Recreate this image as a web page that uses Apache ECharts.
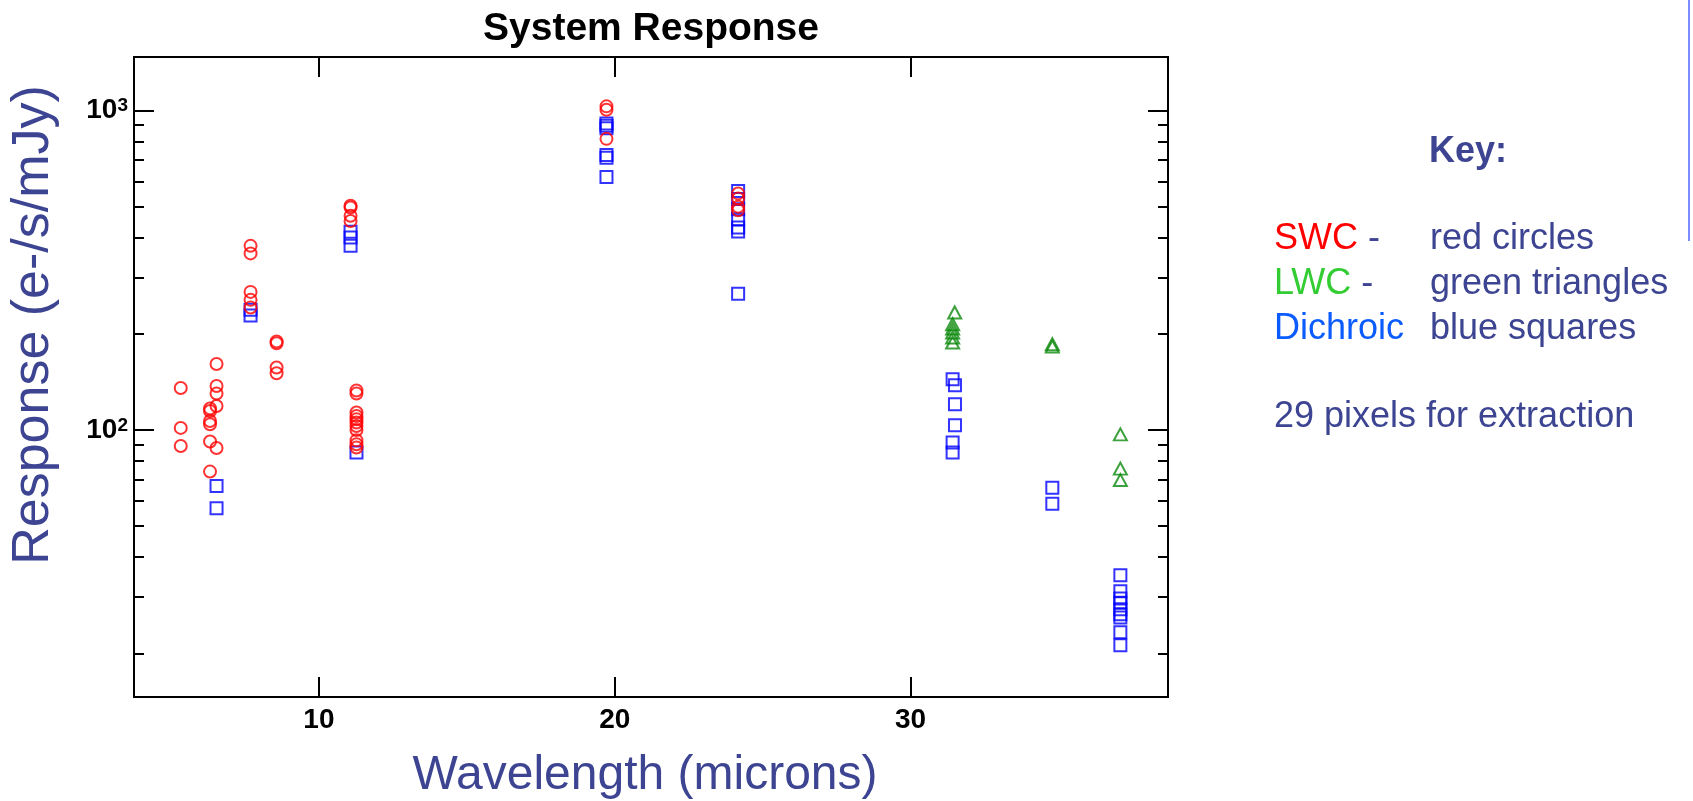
<!DOCTYPE html>
<html>
<head>
<meta charset="utf-8">
<script src="https://cdn.jsdelivr.net/npm/echarts@6/dist/echarts.min.js"></script>
<style>
  html, body { margin: 0; padding: 0; background: #fff; }
  #chart { width: 1693px; height: 801px; }
</style>
</head>
<body>
<div id="chart"></div>
<script>
// ---- data (wavelength in microns, response in e-/s/mJy) ----
const swcData = [
  [5.33, 135.4], [5.33, 101.5], [5.33, 89.1],
  [6.32, 116.7], [6.32, 114.7], [6.32, 106.7], [6.32, 104.2], [6.32, 92.0], [6.32, 74.1],
  [6.54, 160.9], [6.54, 137.3], [6.54, 130.0], [6.54, 118.9], [6.54, 87.8],
  [7.69, 377], [7.69, 357], [7.69, 270.5], [7.69, 255.4], [7.69, 241.7],
  [8.57, 189.2], [8.57, 186.9], [8.57, 156.8], [8.57, 150.5],
  [11.07, 503], [11.07, 497], [11.07, 468], [11.07, 451],
  [11.27, 132.9], [11.27, 130.0], [11.27, 113.4], [11.27, 110.6], [11.27, 108.0],
  [11.27, 105.5], [11.27, 102.9], [11.27, 100.0], [11.27, 92.8], [11.27, 90.2], [11.27, 88.1],
  [19.72, 1030], [19.72, 1005], [19.72, 815],
  [24.17, 550], [24.17, 530], [24.17, 500], [24.17, 487]
];
const lwcData = [
  [31.49, 233.2], [31.42, 214.3], [31.42, 207.8], [31.42, 201.8], [31.42, 194.7], [31.42, 187.8],
  [34.79, 185.5], [34.79, 182.4],
  [37.09, 96.9], [37.09, 75.7], [37.09, 69.7]
];
const dichroicData = [
  [6.54, 66.8], [6.54, 56.9],
  [7.69, 238], [7.69, 228],
  [11.07, 417], [11.07, 400], [11.07, 377],
  [11.27, 85.0],
  [19.72, 910], [19.72, 895], [19.72, 880], [19.72, 726], [19.72, 711], [19.72, 619],
  [24.17, 560], [24.17, 528], [24.17, 491], [24.17, 457], [24.17, 430], [24.17, 418], [24.17, 267],
  [31.42, 144.1], [31.5, 138.0], [31.5, 120.4], [31.5, 103.4], [31.42, 91.3], [31.42, 85.0],
  [34.79, 66.0], [34.79, 58.8],
  [37.09, 35.1], [37.09, 31.3], [37.09, 29.7], [37.09, 28.8], [37.09, 27.5],
  [37.09, 26.5], [37.09, 25.9], [37.09, 23.3], [37.09, 21.2]
];
const xTicks = [10, 20, 30];
const yMajorTicks = [100, 1000];
const yMinorTicks = [20, 30, 40, 50, 60, 70, 80, 90, 200, 300, 400, 500, 600, 700, 800, 900];
const xRange = [3.75, 38.7];
const yRange = [14.6, 1470];

const titleText = 'System Response';
const xName = 'Wavelength (microns)';
const yName = 'Response (e-/s/mJy)';
const keyTitle = 'Key:';
const keyRows = [
  ['SWC', ' -', 'red circles'],
  ['LWC', ' -', 'green triangles'],
  ['Dichroic', '', 'blue squares']
];
const noteText = '29 pixels for extraction';

// ---- styling ----
const FONT = "'Liberation Sans', Arial, Helvetica, sans-serif";
const SLATE = '#3d4592';
const keyColors = ['#ff0000', '#33cc33', '#0a5cff'];

const chart = echarts.init(document.getElementById('chart'), null, { renderer: 'canvas' });

function xAxisDef(pos, showLabel) {
  return {
    type: 'value', position: pos, min: xRange[0], max: xRange[1],
    axisLine: { show: false },
    splitLine: { show: false },
    axisTick: { show: true, inside: true, length: 20, customValues: xTicks,
      lineStyle: { color: '#000', width: 2 } },
    axisLabel: { show: showLabel, customValues: xTicks, margin: 9,
      color: '#000', fontSize: 28, fontWeight: 'bold', fontFamily: FONT }
  };
}
function yAxisDef(pos, ticks, len, showLabel) {
  return {
    type: 'log', logBase: 10, position: pos, min: yRange[0], max: yRange[1],
    axisLine: { show: false },
    splitLine: { show: false },
    minorTick: { show: false },
    axisTick: { show: true, inside: true, length: len, customValues: ticks,
      lineStyle: { color: '#000', width: 2 } },
    axisLabel: { show: showLabel, customValues: ticks, margin: 6,
      formatter: function (v) {
        const e = Math.round(Math.log10(v));
        return '{b|10}{s|' + e + '}';
      },
      rich: {
        b: { fontSize: 28, fontWeight: 'bold', color: '#000', fontFamily: FONT },
        s: { fontSize: 19, fontWeight: 'bold', color: '#000', fontFamily: FONT, verticalAlign: 'top' }
      }
    }
  };
}

const keyGraphics = [];
keyGraphics.push({ type: 'text', x: 1468, y: 152,
  style: { text: keyTitle, font: 'bold 36px ' + FONT, fill: SLATE,
    align: 'center', verticalAlign: 'middle', textAlign: 'center', textVerticalAlign: 'middle' } });
keyRows.forEach(function (row, i) {
  const y = 239 + i * 45;
  keyGraphics.push({ type: 'text', x: 1274, y: y,
    style: { text: '{c|' + row[0] + '}{d|' + row[1] + '}',
      rich: { c: { fill: keyColors[i], font: '36px ' + FONT, fontSize: 36, fontFamily: FONT, color: keyColors[i] },
              d: { fill: SLATE, font: '36px ' + FONT, fontSize: 36, fontFamily: FONT, color: SLATE } },
      font: '36px ' + FONT, verticalAlign: 'middle', textVerticalAlign: 'middle' } });
  keyGraphics.push({ type: 'text', x: 1430, y: y,
    style: { text: row[2], font: '36px ' + FONT, fill: SLATE,
      verticalAlign: 'middle', textVerticalAlign: 'middle' } });
});
keyGraphics.push({ type: 'text', x: 1274, y: 417,
  style: { text: noteText, font: '36px ' + FONT, fill: SLATE,
    verticalAlign: 'middle', textVerticalAlign: 'middle' } });

const option = {
  backgroundColor: '#ffffff',
  animation: false,
  grid: { left: 134, right: 525, top: 57, bottom: 104, containLabel: false,
    outerBoundsMode: 'none',
    show: true, borderColor: '#000', borderWidth: 2, backgroundColor: 'transparent' },
  xAxis: [xAxisDef('bottom', true), xAxisDef('top', false)],
  yAxis: [
    yAxisDef('left', yMajorTicks, 20, true),
    yAxisDef('right', yMajorTicks, 20, false),
    yAxisDef('left', yMinorTicks, 10, false),
    yAxisDef('right', yMinorTicks, 10, false)
  ],
  series: [
    { name: 'Dichroic', type: 'scatter', xAxisIndex: 0, yAxisIndex: 0, data: dichroicData,
      symbol: 'rect', symbolSize: 12,
      itemStyle: { color: 'rgba(0,0,0,0)', borderColor: '#0000ff', borderWidth: 2 } },
    { name: 'SWC', type: 'scatter', xAxisIndex: 0, yAxisIndex: 0, data: swcData,
      symbol: 'circle', symbolSize: 12,
      itemStyle: { color: 'rgba(0,0,0,0)', borderColor: '#ff0000', borderWidth: 2 } },
    { name: 'LWC', type: 'scatter', xAxisIndex: 0, yAxisIndex: 0, data: lwcData,
      symbol: 'triangle', symbolSize: [13, 12],
      itemStyle: { color: 'rgba(0,0,0,0)', borderColor: '#0c8a0c', borderWidth: 2 } }
  ],
  graphic: [
    { type: 'text', x: 651, y: 29,
      style: { text: titleText, font: 'bold 39px ' + FONT, fill: '#000',
        align: 'center', verticalAlign: 'middle', textAlign: 'center', textVerticalAlign: 'middle' } },
    { type: 'text', x: 645, y: 776,
      style: { text: xName, font: '48px ' + FONT, fill: SLATE,
        align: 'center', verticalAlign: 'middle', textAlign: 'center', textVerticalAlign: 'middle' } },
    { type: 'text', x: 34, y: 325, rotation: Math.PI / 2,
      style: { text: yName, font: '52px ' + FONT, fill: SLATE,
        align: 'center', verticalAlign: 'middle', textAlign: 'center', textVerticalAlign: 'middle' } },
    { type: 'line', shape: { x1: 1689, y1: 0, x2: 1689, y2: 241 },
      style: { stroke: '#7a8cff', lineWidth: 2 } }
  ].concat(keyGraphics)
};
chart.setOption(option);
</script>
</body>
</html>
